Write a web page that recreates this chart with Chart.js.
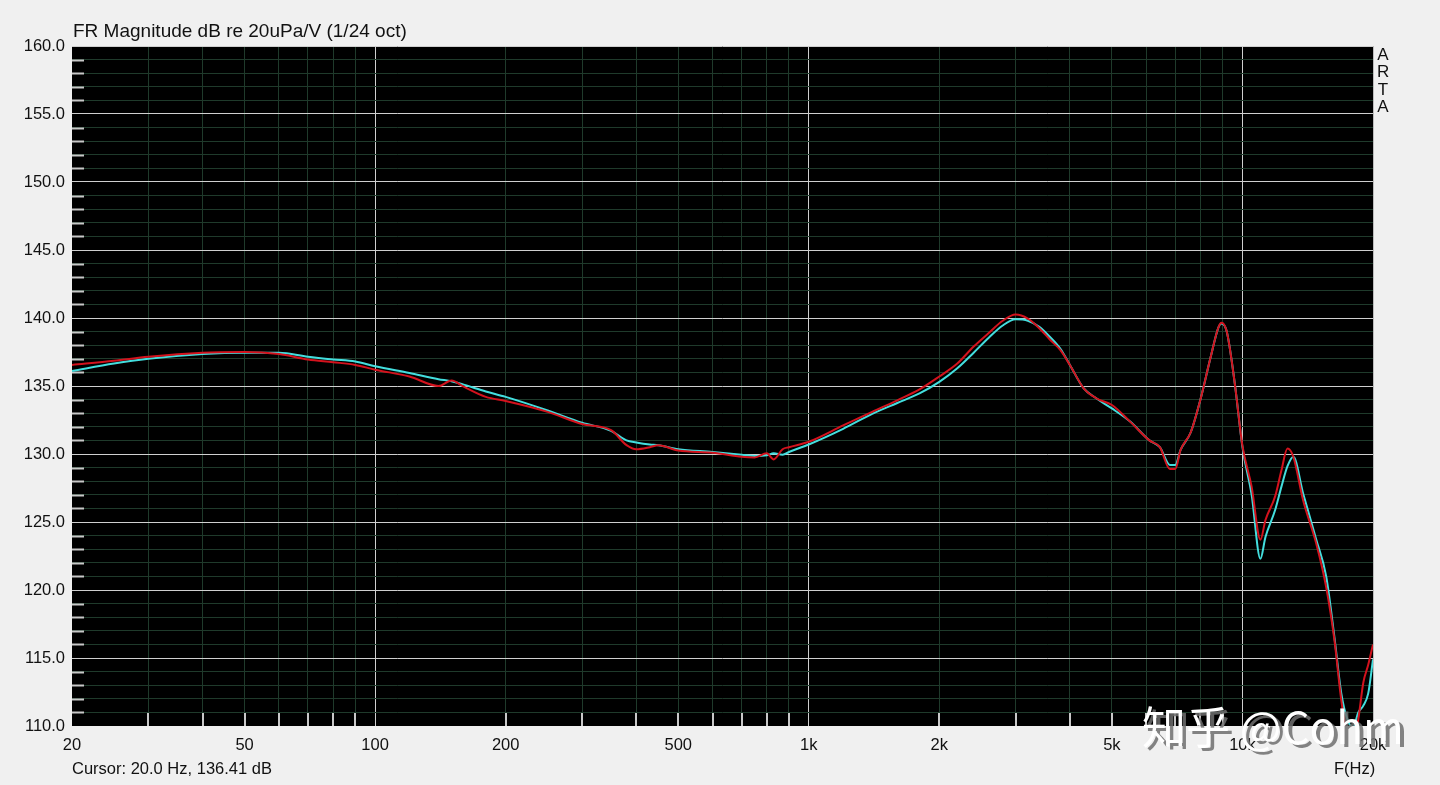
<!DOCTYPE html>
<html>
<head>
<meta charset="utf-8">
<title>FR Magnitude</title>
<script src="https://cdn.jsdelivr.net/npm/chart.js"></script>
<style>
    html, body { margin: 0; padding: 0; background: #f0f0f0; }
    #wrap { position: relative; width: 1440px; height: 785px; overflow: hidden; }
    #wrap canvas { position: absolute; left: 0; top: 0; }
    .txt { position: absolute; font-family: "Liberation Sans", Arial, sans-serif; font-size: 16.5px; line-height: 18px; color: #111; white-space: nowrap; }
    #title { font-size: 19px; line-height: 22px; }
    #arta { line-height: 17.4px; text-align: center; width: 12px; font-size: 17px; }
    #mark { font-family: "Noto Sans CJK SC", sans-serif; font-size: 44px; line-height: 44px; color: #fff;
            text-shadow: 4px 3px 0 rgba(110,110,110,0.85); }
</style>
</head>
<body>
<div id="wrap">
    <canvas id="frChart" width="1440" height="785"></canvas>
    <div class="txt" id="title" style="left:73px; top:20px;">FR Magnitude dB re 20uPa/V (1/24 oct)</div>
    <div class="txt" style="left:72px; top:759px;">Cursor: 20.0 Hz, 136.41 dB</div>
    <div class="txt" style="left:1334px; top:759px;">F(Hz)</div>
    <div class="txt" id="arta" style="left:1377px; top:46px;">A<br>R<br>T<br>A</div>
    <div class="txt" id="mark" style="left:1142px; top:703px;">知乎 @Cohm</div>
</div>

<script>
// ---- data ----
const freqs = [20, 25, 30, 40, 50, 60, 70, 80, 90, 100,
    120, 140, 150, 160, 180, 200, 250, 300, 350, 380,
    400, 430, 450, 500, 600, 700, 750, 800, 830, 870,
    900, 1000, 1200, 1400, 1600, 1800, 2000, 2200, 2400, 2600,
    2800, 3000, 3200, 3400, 3600, 3800, 4000, 4300, 4600, 5000,
    5500, 6100, 6450, 6800, 7000, 7200, 7600, 8000, 8450, 8800,
    8950, 9200, 9600, 10000, 10500, 11000, 11300, 11900, 12300, 12700,
    13100, 13800, 14800, 15600, 16300, 16900, 17500, 18000, 18500, 19000,
    19500, 20000];

const cyanDb = [136.1, 136.65, 137.0, 137.35, 137.45, 137.45, 137.15, 136.95, 136.8, 136.45,
    135.95, 135.5, 135.35, 135.1, 134.6, 134.2, 133.2, 132.3, 131.7, 131.0,
    130.85, 130.7, 130.65, 130.35, 130.15, 129.95, 129.85, 129.9, 130.05, 129.95,
    130.15, 130.7, 131.85, 132.95, 133.75, 134.45, 135.3, 136.3, 137.45, 138.55,
    139.45, 139.9, 139.8, 139.35, 138.6, 137.75, 136.55, 134.85, 134.1, 133.35,
    132.4, 131.0, 130.5, 129.2, 129.2, 130.3, 131.6, 134.0, 137.15, 139.3,
    139.6, 139.0, 135.2, 130.5, 127.0, 122.3, 123.9, 125.9, 127.6, 129.1,
    129.8, 127.1, 123.7, 121.0, 116.5, 112.4, 110.4, 109.9, 111.0, 111.5,
    112.4, 114.9];

const redDb = [136.55, 136.85, 137.15, 137.45, 137.5, 137.35, 136.95, 136.75, 136.55, 136.2,
    135.7, 135.0, 135.4, 134.95, 134.2, 133.9, 133.1, 132.2, 131.75, 130.65,
    130.35, 130.5, 130.65, 130.25, 130.1, 129.8, 129.75, 130.05, 129.6, 130.35,
    130.5, 130.9, 132.1, 133.1, 133.95, 134.75, 135.7, 136.65, 137.9, 138.9,
    139.8, 140.25, 139.95, 139.25, 138.4, 137.65, 136.55, 134.85, 134.1, 133.6,
    132.4, 131.0, 130.5, 128.9, 128.9, 130.3, 131.6, 134.0, 137.15, 139.3,
    139.65, 139.0, 135.2, 130.6, 127.6, 123.7, 125.15, 126.9, 128.8, 130.4,
    129.8, 126.6, 123.4, 120.2, 116.3, 111.9, 109.0, 108.6, 110.5, 113.2,
    114.5, 116.0];

// x grid / tick values
const xTicks = [20, 30, 40, 50, 60, 70, 80, 90,
    100, 200, 300, 400, 500, 600, 700, 800, 900,
    1000, 2000, 3000, 4000, 5000, 6000, 7000, 8000, 9000,
    10000, 20000];
const xLabelFreqs = [20, 50, 100, 200, 500, 1000, 2000, 5000, 10000, 20000];
const xLabelText = ['20', '50', '100', '200', '500', '1k', '2k', '5k', '10k', '20k'];
const xMajor = [100, 1000, 10000];

const yMin = 110, yMax = 160, yMajorStep = 5;

const MINOR_GRID = '#1f3a2b';
const MAJOR_GRID = '#cfcfcf';
const TICK_MARK = '#c8c8c8';

// black plot area + short tick marks along the left and bottom edges
const plotDeco = {
    id: 'plotDeco',
    beforeDraw(chart) {
        const { ctx, chartArea: a } = chart;
        ctx.save();
        ctx.fillStyle = '#000';
        ctx.fillRect(a.left, a.top, a.right - a.left, a.bottom - a.top);
        ctx.restore();
    },
    beforeDatasetsDraw(chart) {
        const { ctx, chartArea: a, scales } = chart;
        ctx.save();
        ctx.strokeStyle = TICK_MARK;
        ctx.lineWidth = 2;
        for (let v = yMin + 1; v < yMax; v++) {
            if (v % yMajorStep === 0) continue;
            const y = Math.round(scales.y.getPixelForValue(v)) + 0.5;
            ctx.beginPath();
            ctx.moveTo(a.left, y);
            ctx.lineTo(a.left + 12, y);
            ctx.stroke();
        }
        xTicks.forEach(f => {
            if (f === 20 || f === 20000 || xMajor.includes(f)) return;
            const x = Math.round(scales.x.getPixelForValue(f));
            ctx.beginPath();
            ctx.moveTo(x, a.bottom);
            ctx.lineTo(x, a.bottom - 13);
            ctx.stroke();
        });
        // right edge
        ctx.strokeStyle = '#bdbdbd';
        ctx.lineWidth = 1;
        ctx.beginPath();
        ctx.moveTo(a.right + 0.5, a.top);
        ctx.lineTo(a.right + 0.5, a.bottom);
        ctx.stroke();
        ctx.restore();
    }
};

const ctx = document.getElementById('frChart').getContext('2d');

const chart = new Chart(ctx, {
    type: 'line',
    data: {
        datasets: [{
            label: 'R',
            data: freqs.map((f, i) => ({ x: f, y: redDb[i] })),
            borderColor: '#d3121d',
            borderWidth: 2,
            pointRadius: 0,
            cubicInterpolationMode: 'monotone',
            order: 0
        }, {
            label: 'L',
            data: freqs.map((f, i) => ({ x: f, y: cyanDb[i] })),
            borderColor: '#43dede',
            borderWidth: 2,
            pointRadius: 0,
            cubicInterpolationMode: 'monotone',
            order: 1
        }]
    },
    options: {
        responsive: false,
        animation: false,
        events: [],
        layout: { padding: { left: 0, top: 46, right: 67, bottom: 0 } },
        plugins: {
            legend: { display: false },
            tooltip: { enabled: false }
        },
        scales: {
            x: {
                type: 'logarithmic',
                min: 20,
                max: 20000,
                afterBuildTicks(scale) {
                    scale.ticks = xTicks.map(v => ({ value: v }));
                },
                afterFit(scale) { scale.height = 59; },
                border: { display: false },
                grid: {
                    drawTicks: false,
                    lineWidth: 1,
                    color: c => {
                        const v = c.tick && c.tick.value;
                        if (v === 20 || v === 20000) return 'rgba(0,0,0,0)';
                        return xMajor.includes(v) ? MAJOR_GRID : MINOR_GRID;
                    }
                },
                ticks: {
                    autoSkip: false,
                    maxRotation: 0,
                    padding: 10,
                    color: '#111',
                    font: { family: 'Liberation Sans', size: 16.5 },
                    callback: v => {
                        const i = xLabelFreqs.indexOf(v);
                        return i >= 0 ? xLabelText[i] : '';
                    }
                }
            },
            y: {
                min: yMin,
                max: yMax,
                afterFit(scale) { scale.width = 72; },
                border: { display: false },
                grid: {
                    drawTicks: false,
                    lineWidth: 1,
                    color: c => {
                        const v = c.tick && c.tick.value;
                        if (v === yMin) return 'rgba(0,0,0,0)';
                        return v % yMajorStep === 0 ? MAJOR_GRID : MINOR_GRID;
                    }
                },
                ticks: {
                    stepSize: 1,
                    autoSkip: false,
                    padding: 7,
                    color: '#111',
                    font: { family: 'Liberation Sans', size: 16.5 },
                    callback: v => (v % yMajorStep === 0 ? v.toFixed(1) : '')
                }
            }
        }
    },
    plugins: [plotDeco]
});
</script>
</body>
</html>
